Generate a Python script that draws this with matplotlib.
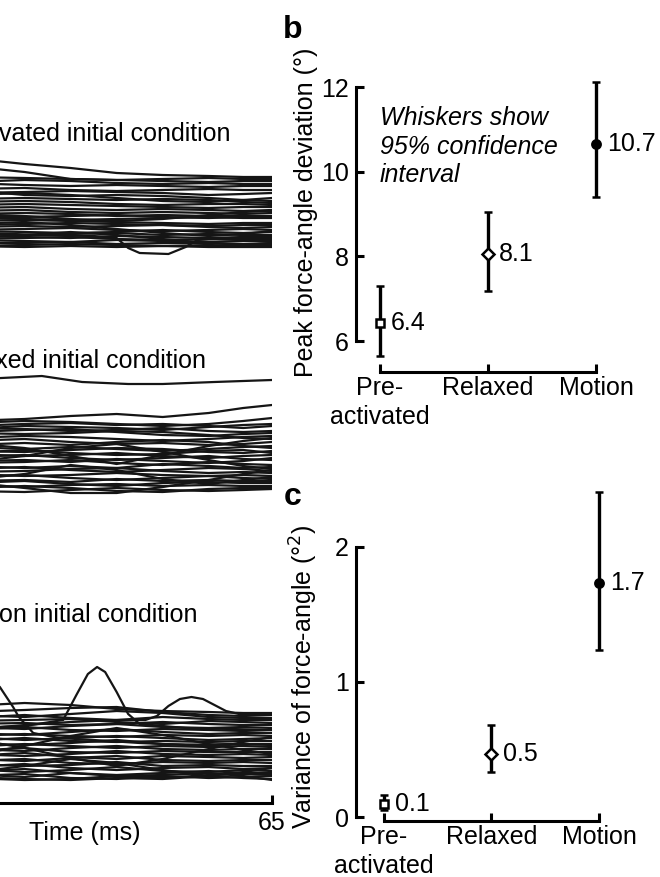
import matplotlib
matplotlib.use("Agg")
import matplotlib.pyplot as plt

plt.rcParams['font.family'] = ['Liberation Sans', 'DejaVu Sans']
plt.rcParams['font.size'] = 18

# ---- data ----
# time samples (ms) for the bulk traces
t_bulk = [0, 12, 22, 30, 38, 46, 54, 60, 65]

# force-angle traces (deg), pre-activated initial condition
pre_traces = [
    [5.6, 5.2, 4.6, 4.2, 3.7, 3.5, 3.4, 3.3, 3.3],
    [4.8, 4.4, 3.8, 3.1, 3.0, 3.1, 3.2, 3.1, 3.1],
    [3.4, 3.3, 3.2, 3.1, 3.0, 2.9, 2.8, 2.9, 2.9],
    [2.6, 2.8, 3.0, 2.9, 2.7, 2.6, 2.7, 2.6, 2.6],
    [2.9, 2.7, 2.5, 2.4, 2.5, 2.4, 2.3, 2.4, 2.4],
    [2.0, 2.1, 2.2, 2.0, 1.9, 2.0, 2.1, 2.0, 2.0],
    [1.6, 1.7, 1.8, 1.9, 1.8, 1.7, 1.5, 1.6, 1.7],
    [2.4, 2.0, 1.5, 1.4, 1.5, 1.4, 1.2, 1.0, 0.9],
    [1.0, 1.1, 1.2, 1.1, 1.0, 1.1, 1.0, 0.8, 0.7],
    [0.7, 0.8, 0.9, 0.8, 0.6, 0.5, 0.6, 0.6, 0.5],
    [0.4, 0.5, 0.6, 0.5, 0.4, 0.3, 0.2, 0.3, 0.3],
    [0.1, 0.2, 0.3, 0.1, 0.0, 0.1, 0.0, -0.1, 0.0],
    [-0.2, -0.1, 0.0, -0.2, -0.3, -0.2, -0.3, -0.4, -0.3],
    [-0.5, -0.4, -0.3, -0.4, -0.6, -0.5, -0.6, -0.6, -0.6],
    [-0.6, -0.7, -0.7, -0.6, -0.5, -0.7, -0.8, -0.7, -0.7],
    [-0.9, -0.8, -0.9, -1.0, -0.9, -0.8, -0.7, -0.8, -0.8],
    [-1.2, -1.1, -1.0, -1.1, -1.2, -1.3, -1.4, -1.3, -1.3],
    [-1.4, -1.5, -1.4, -1.3, -1.4, -1.5, -1.6, -1.5, -1.5],
    [-1.8, -1.7, -1.6, -1.7, -1.6, -1.5, -1.7, -1.8, -1.7],
    [-1.9, -2.0, -1.9, -1.8, -2.0, -2.1, -2.0, -1.9, -2.0],
    [-2.2, -2.1, -2.2, -2.3, -2.2, -2.0, -2.2, -2.3, -2.2],
    [-2.3, -2.4, -2.5, -2.4, -2.3, -2.5, -2.4, -2.5, -2.5],
    [-2.7, -2.6, -2.7, -2.8, -2.6, -2.7, -2.8, -2.7, -2.7],
    [-2.8, -2.9, -2.8, -2.7, -2.9, -3.0, -2.9, -3.0, -3.0],
    [-3.1, -3.0, -3.1, -3.2, -3.0, -3.1, -3.2, -3.1, -3.2],
    [-3.4, -3.3, -3.3, -3.2, -3.4, -3.3, -3.3, -3.4, -3.4],
    [-3.5, -3.6, -3.5, -3.4, -3.5, -3.6, -3.5, -3.6, -3.6],
    [-3.7, -3.6, -3.7, -3.6, -3.7, -3.6, -3.7, -3.7, -3.7],
    [1.3, 1.5, 1.7, 1.5, 1.2, 0.9, 0.8, 1.0, 1.2],
    [-0.1, -0.4, -0.6, -0.9, -1.1, -0.9, -0.5, -0.2, -0.1],
    [-1.6, -1.4, -1.2, -1.5, -1.9, -2.3, -2.6, -2.4, -2.1],
    [-3.0, -2.8, -2.5, -2.2, -2.5, -2.9, -3.3, -3.5, -3.3],
]
pre_dip_t = [0, 15, 25, 34, 38, 40, 42, 47, 50, 52, 58, 65]
pre_dip_v = [-2.0, -2.3, -2.5, -2.6, -2.8, -3.8, -4.3, -4.4, -3.7, -3.0, -2.8, -2.8]

# relaxed initial condition
rel_traces = [
    [1.5, 1.7, 1.9, 1.8, 1.6, 1.4, 1.6, 1.9, 2.2],
    [1.2, 1.4, 1.6, 1.7, 1.5, 1.6, 1.4, 1.2, 1.4],
    [0.9, 1.1, 1.4, 1.3, 1.2, 1.0, 1.3, 1.5, 1.6],
    [1.3, 1.2, 1.1, 0.9, 1.0, 1.2, 0.9, 0.8, 0.9],
    [0.5, 0.8, 1.0, 1.1, 0.8, 0.5, 0.4, 0.6, 0.7],
    [0.9, 0.7, 0.6, 0.7, 0.9, 0.8, 0.5, 0.2, 0.1],
    [0.0, 0.2, 0.4, 0.3, 0.1, -0.1, 0.1, 0.3, 0.4],
    [-0.3, -0.1, 0.1, -0.2, -0.4, -0.3, -0.5, -0.4, -0.2],
    [-0.6, -0.5, -0.3, -0.5, -0.2, 0.0, -0.2, -0.6, -0.8],
    [-0.4, -0.7, -0.9, -0.7, -0.9, -1.1, -0.9, -0.7, -0.6],
    [-1.0, -1.1, -1.2, -1.0, -0.8, -0.9, -1.2, -1.3, -1.1],
    [-1.5, -1.3, -1.0, -1.3, -1.5, -1.4, -1.1, -1.0, -1.3],
    [-1.2, -1.4, -1.6, -1.5, -1.3, -1.6, -1.8, -1.6, -1.5],
    [-1.9, -1.7, -1.5, -1.8, -2.0, -1.8, -1.6, -1.9, -2.0],
    [-2.0, -2.1, -2.0, -2.2, -1.9, -2.1, -2.3, -2.1, -1.8],
    [-2.5, -2.3, -2.2, -2.0, -2.3, -2.5, -2.2, -2.4, -2.5],
    [-2.3, -2.6, -2.8, -2.6, -2.8, -2.4, -2.6, -2.8, -2.7],
    [-3.0, -2.9, -2.7, -3.0, -3.2, -3.0, -2.8, -2.9, -3.1],
    [-3.3, -3.2, -3.1, -2.9, -2.8, -3.1, -3.3, -3.2, -3.3],
    [-3.1, -3.4, -3.6, -3.5, -3.3, -3.5, -3.6, -3.5, -3.6],
    [-3.8, -3.7, -3.5, -3.8, -4.0, -3.8, -3.6, -3.8, -3.9],
    [-4.0, -4.1, -4.0, -4.2, -3.9, -4.1, -4.0, -4.1, -4.1],
    [-4.5, -4.3, -4.1, -4.4, -4.6, -4.3, -4.2, -4.3, -4.3],
    [-4.3, -4.5, -4.7, -4.5, -4.4, -4.6, -4.5, -4.6, -4.6],
    [-4.9, -4.8, -4.6, -4.8, -5.1, -5.2, -4.9, -4.8, -4.8],
    [-5.0, -5.1, -5.2, -5.0, -4.8, -5.0, -5.1, -5.0, -4.9],
    [1.6, 1.9, 2.1, 2.4, 2.6, 2.3, 2.7, 3.2, 3.5],
    [0.2, -0.3, -0.8, -1.6, -2.4, -1.5, -0.6, -0.1, 0.2],
    [-2.8, -2.2, -1.6, -0.8, -0.4, -1.2, -2.0, -2.6, -2.9],
    [-4.6, -4.0, -3.4, -2.5, -3.0, -3.9, -4.4, -4.0, -3.7],
    [-3.6, -4.2, -4.8, -5.3, -5.3, -4.7, -4.0, -3.4, -3.0],
]
rel_top_t = [0, 10, 18, 25, 32, 40, 46, 55, 65]
rel_top_v = [5.8, 6.0, 6.2, 6.4, 5.8, 5.6, 5.6, 5.8, 6.0]

# motion initial condition
mot_traces = [
    [3.0, 3.4, 3.7, 3.5, 3.1, 2.9, 2.8, 2.7, 2.7],
    [2.5, 2.8, 3.0, 3.2, 3.3, 2.8, 2.5, 2.4, 2.5],
    [2.6, 2.5, 2.3, 2.6, 2.9, 2.7, 2.3, 2.2, 2.2],
    [2.0, 2.2, 2.5, 2.2, 2.0, 2.3, 2.1, 2.0, 2.0],
    [1.8, 1.9, 2.0, 2.1, 1.8, 1.6, 1.9, 1.8, 1.7],
    [1.4, 1.6, 1.7, 1.5, 1.6, 1.8, 1.6, 1.5, 1.5],
    [1.5, 1.3, 1.1, 1.4, 1.6, 1.3, 1.2, 1.3, 1.2],
    [0.8, 1.0, 1.3, 1.0, 0.9, 1.1, 1.0, 0.9, 1.0],
    [0.9, 0.7, 0.5, 0.8, 1.1, 0.8, 0.6, 0.7, 0.7],
    [0.2, 0.4, 0.6, 0.4, 0.3, 0.5, 0.4, 0.5, 0.4],
    [0.5, 0.3, 0.0, 0.2, 0.4, 0.2, 0.0, 0.1, 0.2],
    [-0.3, -0.1, 0.2, -0.1, -0.2, -0.1, -0.2, -0.1, -0.1],
    [-0.1, -0.3, -0.5, -0.3, 0.0, -0.4, -0.5, -0.4, -0.4],
    [-0.8, -0.7, -0.4, -0.6, -0.8, -0.6, -0.7, -0.6, -0.7],
    [-0.6, -0.9, -1.1, -0.8, -0.6, -0.9, -1.0, -0.9, -0.9],
    [-1.3, -1.1, -0.8, -1.2, -1.3, -1.1, -1.2, -1.2, -1.2],
    [-1.1, -1.4, -1.6, -1.4, -1.1, -1.4, -1.5, -1.4, -1.5],
    [-1.8, -1.6, -1.3, -1.7, -1.9, -1.6, -1.7, -1.8, -1.7],
    [-1.6, -1.9, -2.1, -1.8, -1.6, -2.0, -2.1, -2.0, -2.0],
    [-2.3, -2.1, -1.9, -2.3, -2.4, -2.2, -2.3, -2.2, -2.3],
    [-2.0, -2.4, -2.6, -2.5, -2.2, -2.6, -2.5, -2.6, -2.6],
    [-2.9, -2.7, -2.4, -2.8, -3.0, -2.8, -2.7, -2.9, -2.8],
    [-2.6, -2.9, -3.2, -3.0, -2.7, -3.1, -3.2, -3.0, -3.1],
    [-3.4, -3.2, -2.9, -3.3, -3.5, -3.3, -3.1, -3.3, -3.3],
    [-3.1, -3.4, -3.7, -3.3, -3.6, -3.8, -3.5, -3.4, -3.5],
    [-3.8, -3.6, -3.4, -3.8, -3.9, -3.6, -3.8, -3.7, -3.6],
    [-3.6, -3.8, -4.0, -3.9, -3.6, -3.5, -3.3, -3.6, -4.0],
    [-3.5, -3.7, -3.9, -4.0, -3.8, -3.9, -3.6, -3.8, -3.9],
    [1.0, 0.2, -0.8, -1.8, -2.6, -1.9, -0.9, -0.2, 0.3],
    [-2.5, -1.6, -0.6, 0.4, 1.2, 0.5, -0.4, -1.0, -1.4],
    [-3.9, -3.3, -2.6, -1.9, -2.3, -3.0, -3.6, -3.2, -2.8],
]
mot_a_t = [0, 8, 14, 17.7, 20, 21, 23.5, 28, 34, 42, 50, 58, 65]
mot_a_v = [2.0, 5.0, 7.2, 5.3, 3.3, 2.3, 0.7, 0.2, 0.0, -0.3, -0.5, -0.4, -0.5]
mot_b_t = [0, 12, 22, 28.7, 31, 33, 34.6, 36, 38, 40, 42, 50, 58, 65]
mot_b_v = [1.0, 1.2, 1.4, 2.0, 4.5, 6.6, 7.3, 6.8, 4.8, 2.6, 1.6, 1.2, 1.1, 1.0]
mot_c_t = [0, 12, 22, 30, 38, 43, 45, 47, 49, 51, 53, 55, 57, 60, 65]
mot_c_v = [0.8, 1.0, 1.5, 1.8, 2.0, 2.0, 2.4, 3.4, 4.1, 4.3, 4.1, 3.5, 2.9, 2.5, 2.6]

# summary panels
conditions = ['Pre-\nactivated', 'Relaxed', 'Motion']
markers = ['s', 'D', 'o']
marker_fill = ['white', 'white', 'black']

peak_mean = [6.43, 8.06, 10.65]
peak_lo = [5.65, 7.18, 9.41]
peak_hi = [7.31, 9.05, 12.11]
peak_labels = ['6.4', '8.1', '10.7']

var_mean = [0.10, 0.47, 1.73]
var_lo = [0.05, 0.33, 1.24]
var_hi = [0.16, 0.68, 2.41]
var_labels = ['0.1', '0.5', '1.7']

# ---- figure ----
W, H = 660, 877
fig = plt.figure(figsize=(6.6, 8.77), dpi=100)


def box(left, top, right, bottom):
    # pixel box -> figure fraction
    return [left / W, 1 - bottom / H, (right - left) / W, (bottom - top) / H]


trace_kw = dict(color='#151515', lw=1.6, solid_joinstyle='round')

# left column: three groups of traces (panel is cut off on the left)
ax1 = fig.add_axes(box(-102, 150, 272, 270))
ax2 = fig.add_axes(box(-102, 365, 272, 500))
ax3 = fig.add_axes(box(-102, 640, 272, 803))

for tr in pre_traces:
    ax1.plot(t_bulk, tr, **trace_kw)
ax1.plot(pre_dip_t, pre_dip_v, **trace_kw)

for tr in rel_traces:
    ax2.plot(t_bulk, tr, **trace_kw)
ax2.plot(rel_top_t, rel_top_v, **trace_kw)

for tr in mot_traces:
    ax3.plot(t_bulk, tr, **trace_kw)
ax3.plot(mot_a_t, mot_a_v, **trace_kw)
ax3.plot(mot_b_t, mot_b_v, **trace_kw)
ax3.plot(mot_c_t, mot_c_v, **trace_kw)

ax1.set_ylim(-6, 6)
ax2.set_ylim(-6, 7.5)
ax3.set_ylim(-6.3, 10)
for ax in (ax1, ax2, ax3):
    ax.set_xlim(0, 65)
    for s in ax.spines.values():
        s.set_visible(False)
    ax.set_xticks([])
    ax.set_yticks([])
    ax.patch.set_visible(False)

ax3.spines['bottom'].set_visible(True)
ax3.spines['bottom'].set_linewidth(2.2)
ax3.set_xticks([65])
ax3.set_xticklabels(['65'])
ax3.tick_params(axis='x', direction='in', length=6, width=2.2, pad=6)
ax3.set_xlabel('Time (ms)')
ax3.xaxis.set_label_coords(0.5, -0.11)

fig.text(230 / W, 1 - 141 / H, 'Pre-activated initial condition', ha='right', va='baseline')
fig.text(206 / W, 1 - 368 / H, 'Relaxed initial condition', ha='right', va='baseline')
fig.text(197 / W, 1 - 622 / H, 'Motion initial condition', ha='right', va='baseline')


def summary(ax, mean, lo, hi, labels):
    for i in range(3):
        ax.errorbar(i, mean[i], yerr=[[mean[i] - lo[i]], [hi[i] - mean[i]]],
                    fmt=markers[i], color='k', mfc=marker_fill[i], mec='k',
                    ms=6, mew=1.8, elinewidth=2.4, capsize=3, capthick=2.2)
        ax.annotate(labels[i], (i, mean[i]), xytext=(8, 0), textcoords='offset points',
                    ha='left', va='center')
    for s in ('top', 'right'):
        ax.spines[s].set_visible(False)
    for s in ('left', 'bottom'):
        ax.spines[s].set_linewidth(2.2)
    ax.spines['bottom'].set_bounds(0, 2)
    ax.set_xticks([0, 1, 2])
    ax.set_xticklabels(conditions)
    for lbl in ax.get_xticklabels():
        lbl.set_linespacing(1.25)
    ax.tick_params(direction='in', length=6, width=2.2)
    ax.tick_params(axis='y', pad=5)
    ax.tick_params(axis='x', pad=3)
    ax.patch.set_visible(False)


# panel b
axb = fig.add_axes(box(356, 60, 640, 372))
summary(axb, peak_mean, peak_lo, peak_hi, peak_labels)
axb.set_xlim(-0.222, 2.407)
axb.set_ylim(5.268, 12.64)
axb.spines['left'].set_bounds(6, 12)
axb.set_yticks([6, 8, 10, 12])
axb.set_ylabel('Peak force-angle deviation (°)')
axb.yaxis.set_label_coords(-0.134, 0.513)
fig.text(380 / W, 1 - 106 / H, 'Whiskers show\n95% confidence\ninterval',
         style='italic', ha='left', va='top', linespacing=1.25)
fig.text(293 / W, 1 - 30 / H, 'b', fontsize=23, fontweight='bold', ha='center', va='center')

# panel c
axc = fig.add_axes(box(356, 480, 640, 821))
summary(axc, var_mean, var_lo, var_hi, var_labels)
axc.set_xlim(-0.26, 2.381)
axc.set_ylim(-0.0296, 2.496)
axc.spines['left'].set_bounds(0, 2)
axc.set_yticks([0, 1, 2])
axc.set_ylabel('Variance of force-angle (°$^2$)')
axc.yaxis.set_label_coords(-0.125, 0.422)
fig.text(293 / W, 1 - 497 / H, 'c', fontsize=23, fontweight='bold', ha='center', va='center')

fig.savefig('out.png', dpi=100)
